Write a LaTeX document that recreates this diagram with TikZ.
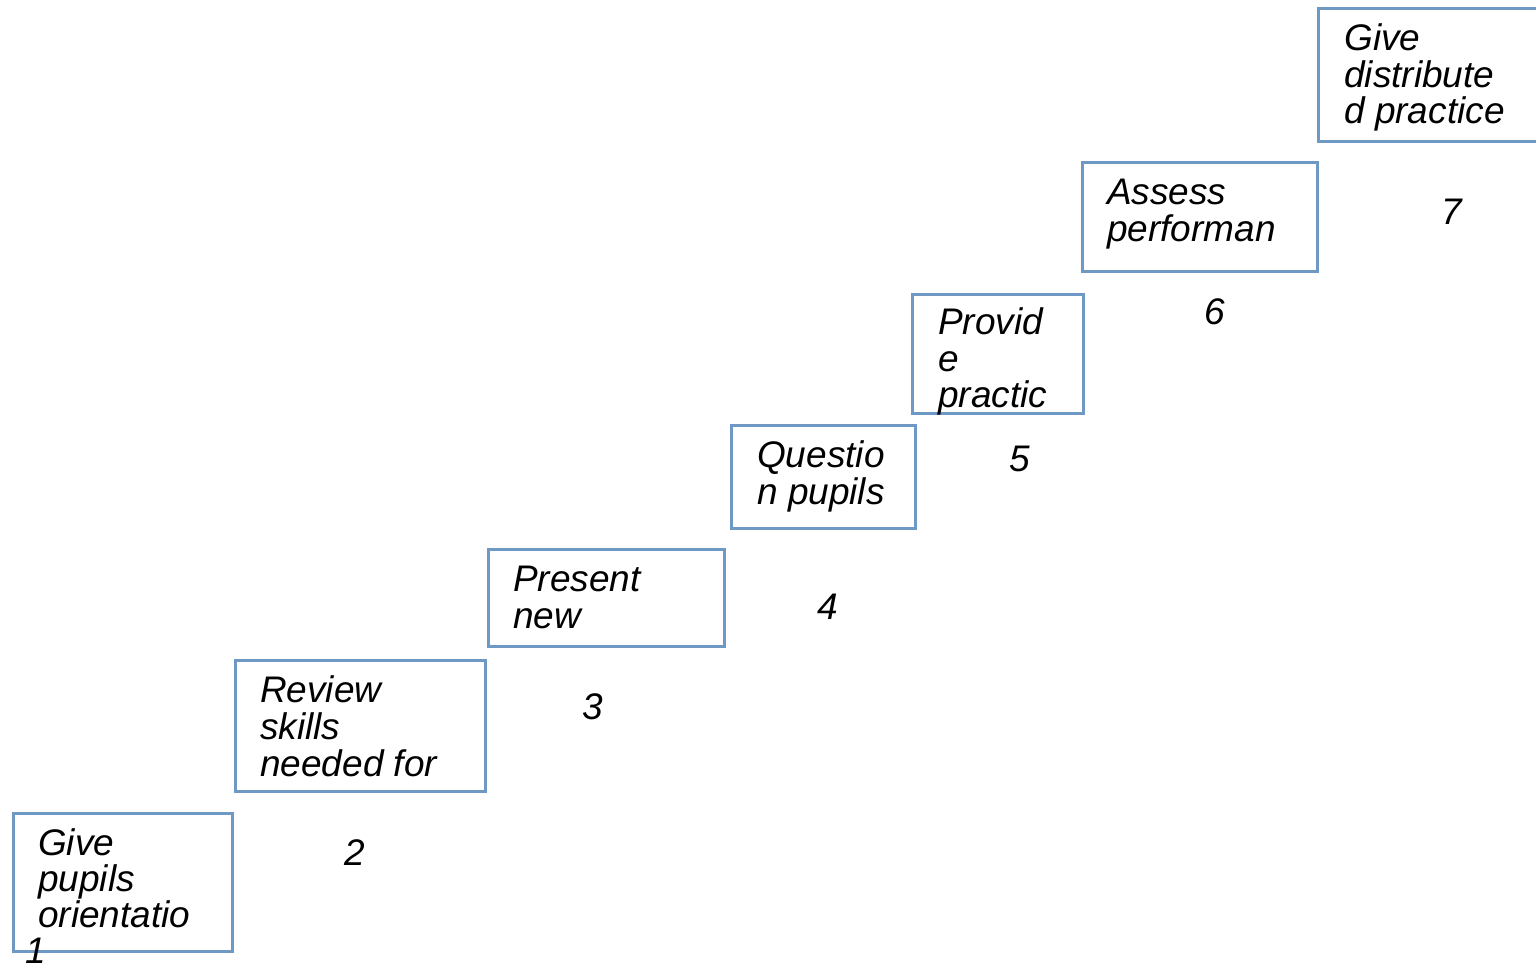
\documentclass[tikz,border=0pt]{standalone}
\usepackage{fontspec}
\setmainfont{Liberation Sans}
\definecolor{boxblue}{RGB}{111,153,197}
\begin{document}
\begin{tikzpicture}[x=1pt,y=-1pt,
  stepbox/.style={draw=boxblue,line width=3pt,inner sep=0pt,anchor=north west},
  steptext/.style={font=\fontsize{37}{37}\selectfont\itshape,inner sep=0pt,anchor=base west},
  stepnum/.style={font=\fontsize{37}{37}\selectfont\itshape,inner sep=0pt,anchor=base}]
\useasboundingbox (0,0) rectangle (1536,962);
\clip (0,0) rectangle (1536,962);

% staircase of boxes
\node[stepbox,minimum width=219pt,minimum height=138pt] (b1) at (12,812) {};
\node[stepbox,minimum width=250pt,minimum height=131pt] (b2) at (234,659) {};
\node[stepbox,minimum width=236pt,minimum height=97pt]  (b3) at (487,548) {};
\node[stepbox,minimum width=184pt,minimum height=103pt] (b4) at (730,424) {};
\node[stepbox,minimum width=171pt,minimum height=119pt] (b5) at (911,293) {};
\node[stepbox,minimum width=235pt,minimum height=109pt] (b6) at (1081,161) {};
\node[stepbox,minimum width=223pt,minimum height=133pt] (b7) at (1317,7) {};

% box texts, one node per line
\node[steptext] (t1a) at (38,855) {Give};
\node[steptext] (t1b) at (38,891) {pupils};
\node[steptext] (t1c) at (38,927) {orientatio};

\node[steptext] (t2a) at (260,702) {Review};
\node[steptext] (t2b) at (260,739) {skills};
\node[steptext] (t2c) at (260,776) {needed for};

\node[steptext] (t3a) at (513,591) {Present};
\node[steptext] (t3b) at (513,628) {new};

\node[steptext] (t4a) at (757,467) {Questio};
\node[steptext] (t4b) at (757,504) {n pupils};

\node[steptext] (t5a) at (938,334) {Provid};
\node[steptext] (t5b) at (938,371) {e};
\node[steptext] (t5c) at (938,407) {practic};

\node[steptext] (t6a) at (1107,204) {Assess};
\node[steptext] (t6b) at (1107,241) {performan};

\node[steptext] (t7a) at (1344,50) {Give};
\node[steptext] (t7b) at (1344,87) {distribute};
\node[steptext] (t7c) at (1344,123) {d practice};

% step numbers
\node[stepnum] (n1) at (36,963) {1};
\node[stepnum] (n2) at (355,865) {2};
\node[stepnum] (n3) at (593,719) {3};
\node[stepnum] (n4) at (828,619) {4};
\node[stepnum] (n5) at (1020,471) {5};
\node[stepnum] (n6) at (1215,324) {6};
\node[stepnum] (n7) at (1452,224) {7};
\end{tikzpicture}
\end{document}
